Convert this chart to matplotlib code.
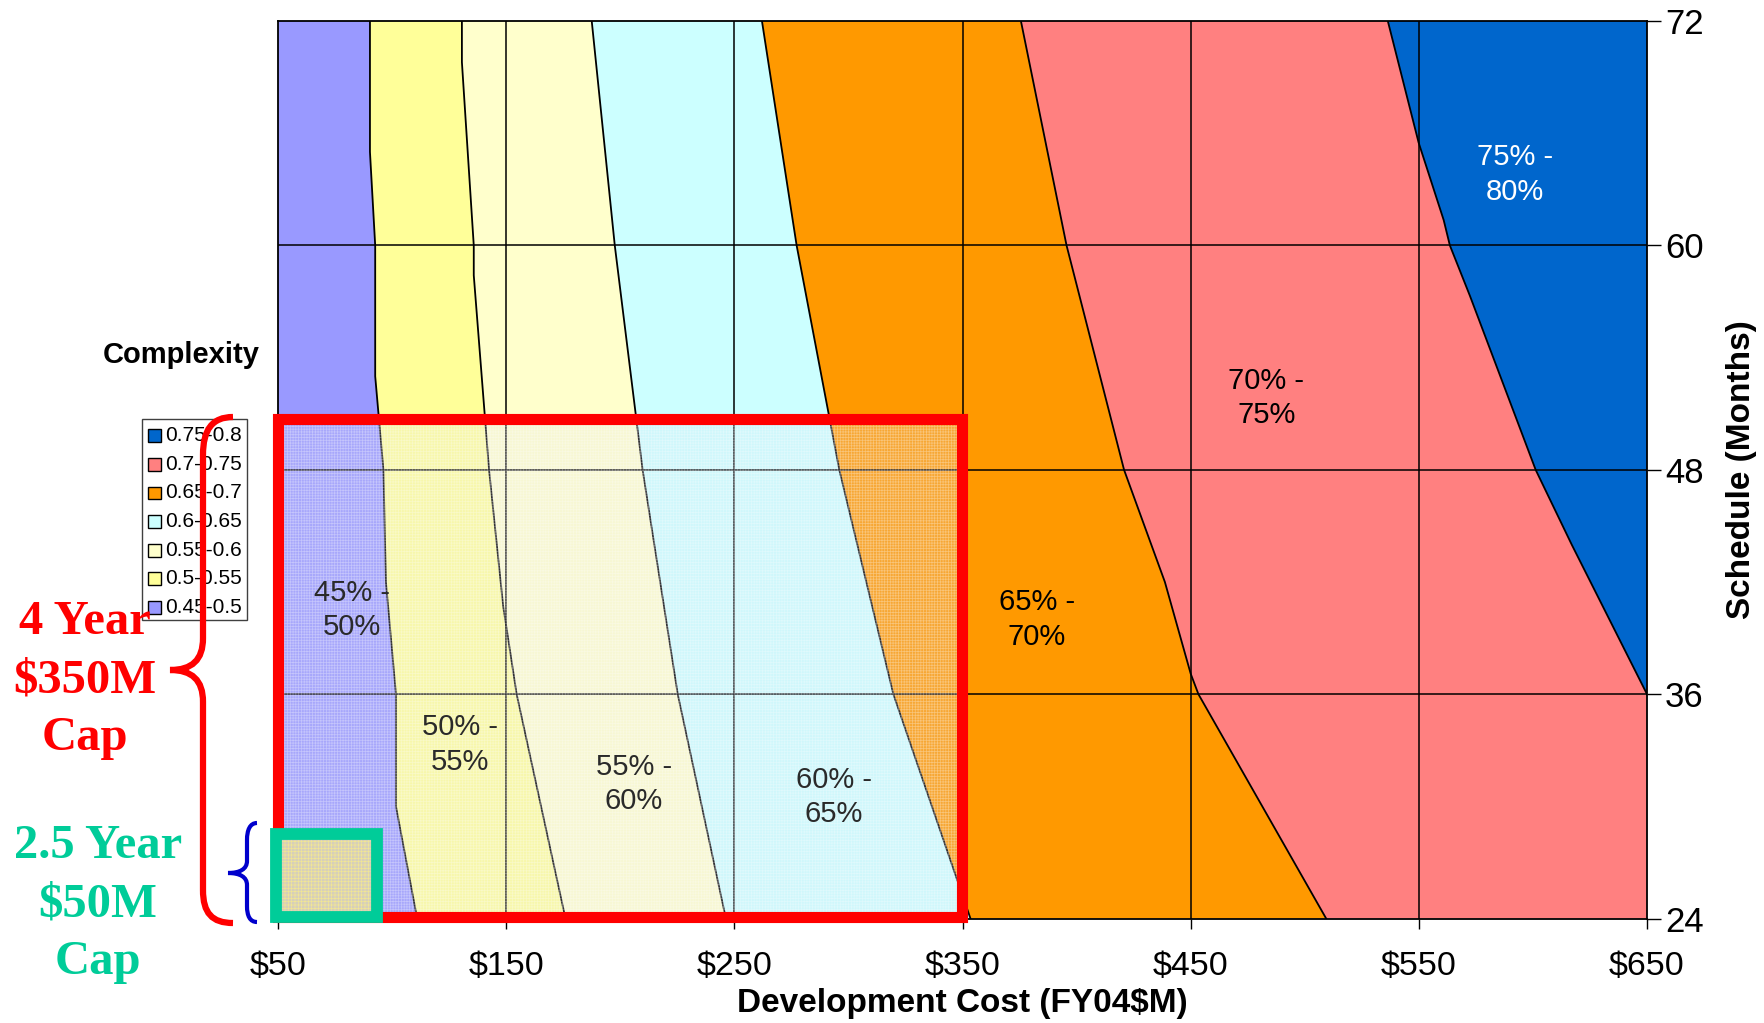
import numpy as np
import matplotlib
matplotlib.use("Agg")
import matplotlib.pyplot as plt
from matplotlib.patches import Rectangle, PathPatch
from matplotlib.path import Path

plt.rcParams['font.family'] = ['Liberation Sans', 'DejaVu Sans']
plt.rcParams['hatch.linewidth'] = 0.5

# ---- data -------------------------------------------------------------
# Complexity contour boundaries: development cost (FY04 $M) at given schedule (months)
b050_y = [24, 30, 36, 42, 48, 53, 60, 65, 72]
b050_x = [111.0, 101.7, 101.7, 97.3, 96.2, 92.6, 92.6, 90.3, 90.3]
b055_y = [24, 36, 40.7, 48, 58.4, 60, 69.8, 72]
b055_x = [176.0, 154.6, 148.7, 142.5, 135.8, 135.8, 130.6, 130.6]
b060_y = [24, 36, 48, 60, 72]
b060_x = [246.3, 225.2, 209.8, 197.6, 187.5]
b065_y = [24, 36, 48, 60, 72]
b065_x = [353.5, 319.7, 296.0, 277.3, 262.1]
b070_y = [24, 36, 37.1, 42, 48, 60, 72]
b070_x = [509.4, 453.4, 450.0, 438.7, 420.8, 395.6, 375.6]
b075_y = [36, 44, 48, 57.3, 60, 61.35, 65.5, 72]
b075_x = [650.0, 617.0, 601.2, 572.4, 563.6, 560.9, 549.9, 536.4]

band_labels = ["0.45-0.5", "0.5-0.55", "0.55-0.6", "0.6-0.65",
               "0.65-0.7", "0.7-0.75", "0.75-0.8"]
band_colors = ["#9999FF", "#FFFF99", "#FFFFCC", "#CCFFFF",
               "#FF9900", "#FF8080", "#0066CC"]

region_text = ["45% -\n50%", "50% -\n55%", "55% -\n60%", "60% -\n65%",
               "65% -\n70%", "70% -\n75%", "75% -\n80%"]
region_x = [82.6, 129.9, 205.9, 293.7, 382.6, 483.2, 592.1]
region_y = [40.5, 33.3, 31.2, 30.5, 40.0, 51.85, 63.8]
region_color = ["#2a2a2a", "#2a2a2a", "#2a2a2a", "#2a2a2a",
                "black", "black", "white"]

cost_ticks = [50, 150, 250, 350, 450, 550, 650]
cost_labels = [r"\$50", r"\$150", r"\$250", r"\$350", r"\$450", r"\$550", r"\$650"]
sched_ticks = [24, 36, 48, 60, 72]

# budget caps
cap4_x = [50, 350]
cap4_y = [24.1, 50.7]
cap25_x = [49.1, 93.6]
cap25_y = [24.1, 28.55]

# ---- figure -----------------------------------------------------------
W, H = 1765, 1023
fig = plt.figure(figsize=(W / 100, H / 100), dpi=100)
ax = fig.add_axes([278 / W, (H - 918.6) / H, 1369 / W, 897.6 / H])
xmin, xmax, ymin, ymax = 50, 650, 24, 72
ax.set_xlim(xmin, xmax)
ax.set_ylim(ymin, ymax)

bounds = [(np.array(b050_y), np.array(b050_x)),
          (np.array(b055_y), np.array(b055_x)),
          (np.array(b060_y), np.array(b060_x)),
          (np.array(b065_y), np.array(b065_x)),
          (np.array(b070_y), np.array(b070_x)),
          (np.array(b075_y), np.array(b075_x))]
edges = ([(np.array([ymin, ymax]), np.array([xmin, xmin]))] + bounds +
         [(np.array([ymin, ymax]), np.array([xmax, xmax]))])

for i, col in enumerate(band_colors):
    ly, lx = edges[i]
    ry, rx = edges[i + 1]
    px = list(lx) + list(rx[::-1])
    py = list(ly) + list(ry[::-1])
    if ry[0] > ymin:
        px.append(xmax)
        py.append(ymin)
    ax.fill(px, py, color=col, lw=0, zorder=1)

for by, bx in bounds:
    ax.plot(bx, by, color="black", lw=1.3, zorder=2, solid_joinstyle="miter")

# grid lines
for xv in cost_ticks[1:-1]:
    ax.axvline(xv, color="black", lw=1.1, zorder=2.5)
for yv in sched_ticks[1:-1]:
    ax.axhline(yv, color="black", lw=1.1, zorder=2.5)

# textured overlay for the 4-year cap
ax.add_patch(Rectangle((cap4_x[0], cap4_y[0]), cap4_x[1] - cap4_x[0],
                       cap4_y[1] - cap4_y[0], facecolor=(0.86, 0.86, 0.93, 0.22),
                       edgecolor=(1, 1, 1, 0.35), hatch="++++++", lw=0, zorder=4))
ax.add_patch(Rectangle((cap4_x[0], cap4_y[0]), cap4_x[1] - cap4_x[0],
                       cap4_y[1] - cap4_y[0], fill=False, edgecolor="#FF0000",
                       lw=8, zorder=6, clip_on=False))

# region labels
for t, x, y, c in zip(region_text, region_x, region_y, region_color):
    ax.text(x, y, t, ha="center", va="center", fontsize=21, color=c,
            linespacing=1.3, zorder=4.5)

# 2.5-year cap
ax.add_patch(Rectangle((cap25_x[0], cap25_y[0]), cap25_x[1] - cap25_x[0],
                       cap25_y[1] - cap25_y[0], facecolor="#D6CFBA",
                       edgecolor=(0.97, 0.92, 0.55, 0.8), hatch="+++++", lw=0,
                       zorder=7, clip_on=False))
ax.add_patch(Rectangle((cap25_x[0], cap25_y[0]), cap25_x[1] - cap25_x[0],
                       cap25_y[1] - cap25_y[0], fill=False, edgecolor="#00CC99",
                       lw=8.5, zorder=8, clip_on=False))

# axes
ax.set_xticks(cost_ticks)
ax.set_xticklabels(cost_labels)
ax.set_yticks(sched_ticks)
ax.yaxis.tick_right()
ax.yaxis.set_label_position("right")
ax.tick_params(axis="x", direction="out", length=7, width=1, pad=16, labelsize=24.5)
ax.tick_params(axis="y", direction="out", length=10, width=1, pad=3, labelsize=25,
               left=False, right=True)
for s in ax.spines.values():
    s.set_linewidth(1.3)
    s.set_color("black")
    s.set_zorder(5)
ax.set_xlabel(r"Development Cost (FY04\$M)", fontsize=24, fontweight="bold",
              labelpad=5)
ax.set_ylabel("Schedule (Months)", fontsize=24, fontweight="bold", labelpad=16)

# ---- legend ----------------------------------------------------------
def fx(px):
    return px / W


def fy(py):
    return 1 - py / H


fig.text(fx(181.7), fy(355), "Complexity", fontsize=21, fontweight="bold",
         ha="center", va="center")
fig.patches.append(Rectangle((fx(141.7), fy(620)), fx(247.3) - fx(141.7),
                             fy(419.3) - fy(620), transform=fig.transFigure,
                             facecolor="white", edgecolor="#404040", lw=1,
                             zorder=1))
for i, (lab, col) in enumerate(zip(band_labels[::-1], band_colors[::-1])):
    yc = 435.7 + i * 28.6
    fig.patches.append(Rectangle((fx(148.4), fy(yc + 6.4)), fx(12.7), 12.7 / H,
                                 transform=fig.transFigure, facecolor=col,
                                 edgecolor="black", lw=1, zorder=2))
    fig.text(fx(165), fy(yc), lab, fontsize=15, ha="left", va="center",
             zorder=3)

# ---- cap annotations --------------------------------------------------
fig.text(fx(84.4), fy(680), "4 Year\n\\$350M\nCap", color="#FF0000",
         family=["Liberation Serif", "DejaVu Serif"], fontweight="bold",
         fontsize=35, ha="center", va="center", linespacing=1.42, zorder=4)
fig.text(fx(98), fy(904), "2.5 Year\n\\$50M\nCap", color="#00CC99",
         family=["Liberation Serif", "DejaVu Serif"], fontweight="bold",
         fontsize=35, ha="center", va="center", linespacing=1.42, zorder=4)


def brace(points, color, lw):
    codes = [Path.MOVETO, Path.CURVE4, Path.CURVE4, Path.CURVE4, Path.LINETO,
             Path.CURVE4, Path.CURVE4, Path.CURVE4, Path.CURVE4, Path.CURVE4,
             Path.CURVE4, Path.LINETO, Path.CURVE4, Path.CURVE4, Path.CURVE4]
    verts = [(fx(px), fy(py)) for px, py in points]
    fig.patches.append(PathPatch(Path(verts, codes), transform=fig.transFigure,
                                 fill=False, edgecolor=color, lw=lw,
                                 capstyle="butt", zorder=5))


brace([(233, 417), (212, 417), (203, 430), (203, 455), (203, 638),
       (203, 660), (192, 670), (170, 670), (192, 670), (203, 680), (203, 702),
       (203, 890), (203, 913), (212, 923), (233, 923)], "#FF0000", 4.5)
brace([(257, 823), (250, 823), (247, 830), (247, 840), (247, 861),
       (247, 869), (240, 873), (228, 873), (240, 873), (247, 877), (247, 885),
       (247, 906), (247, 916), (250, 922), (257, 922)], "#0000CC", 3)

fig.savefig("out.png", dpi=100, facecolor="white")
